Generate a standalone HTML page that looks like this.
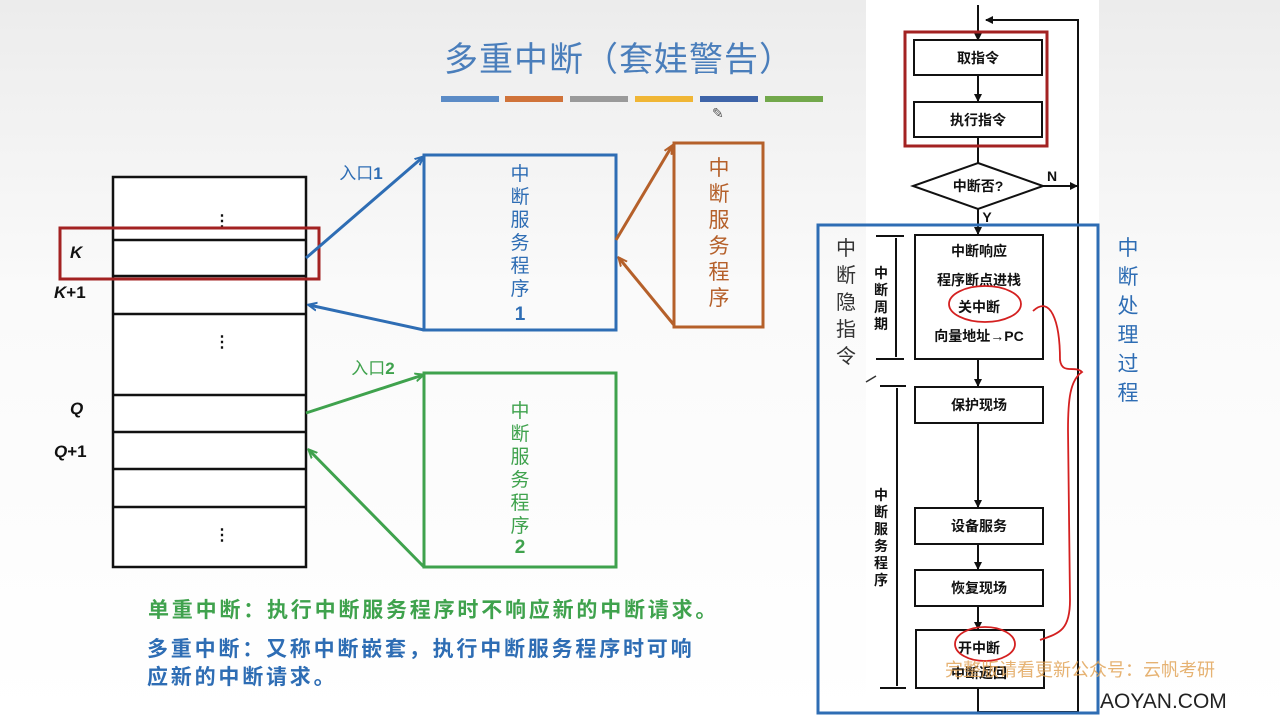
<!DOCTYPE html>
<html><head><meta charset="utf-8"><style>
html,body{margin:0;padding:0;}
body{width:1280px;height:720px;overflow:hidden;background:linear-gradient(#ececec,#fafafa 40%,#fff);font-family:"Liberation Sans","Noto Sans CJK SC",sans-serif;}
svg{position:absolute;left:0;top:0}
text{font-family:"Liberation Sans","Noto Sans CJK SC",sans-serif;}
</style></head><body>
<svg width="1280" height="720" viewBox="0 0 1280 720">
<defs>
<marker id="ab" markerWidth="10" markerHeight="10" refX="8" refY="5" orient="auto" markerUnits="userSpaceOnUse"><path d="M0,1 L9,5 L0,9" fill="none" stroke="#2e6db4" stroke-width="2"/></marker>
<marker id="ag" markerWidth="10" markerHeight="10" refX="8" refY="5" orient="auto" markerUnits="userSpaceOnUse"><path d="M0,1 L9,5 L0,9" fill="none" stroke="#3fa24d" stroke-width="2"/></marker>
<marker id="ao" markerWidth="10" markerHeight="10" refX="8" refY="5" orient="auto" markerUnits="userSpaceOnUse"><path d="M0,1 L9,5 L0,9" fill="none" stroke="#b5602a" stroke-width="2"/></marker>
<marker id="ak" markerWidth="8" markerHeight="8" refX="7" refY="4" orient="auto" markerUnits="userSpaceOnUse"><path d="M0,0 L8,4 L0,8 z" fill="#111"/></marker>
</defs>
<text x="619" y="71" font-size="34" letter-spacing="1" fill="#4a7ebb" text-anchor="middle">多重中断（套娃警告）</text>
<rect x="441" y="96" width="58" height="6" fill="#5b8bc6"/>
<rect x="505" y="96" width="58" height="6" fill="#d0733a"/>
<rect x="570" y="96" width="58" height="6" fill="#9a9a9a"/>
<rect x="635" y="96" width="58" height="6" fill="#f0b635"/>
<rect x="700" y="96" width="58" height="6" fill="#3e64a8"/>
<rect x="765" y="96" width="58" height="6" fill="#72a84b"/>
<text x="712" y="118" font-size="14" fill="#555">✎</text>

<g stroke="#111" stroke-width="2.5" fill="none">
<rect x="113" y="177" width="193" height="390" fill="#fff"/>
<line x1="113" y1="240" x2="306" y2="240"/>
<line x1="113" y1="276" x2="306" y2="276"/>
<line x1="113" y1="314" x2="306" y2="314"/>
<line x1="113" y1="395" x2="306" y2="395"/>
<line x1="113" y1="432" x2="306" y2="432"/>
<line x1="113" y1="469" x2="306" y2="469"/>
<line x1="113" y1="507" x2="306" y2="507"/>
</g>
<g fill="#111" font-size="16" font-weight="bold">
<text x="214" y="226">⋮</text><text x="214" y="347">⋮</text><text x="214" y="540">⋮</text>
<text x="70" y="258" font-style="italic" font-size="17">K</text>
<text x="54" y="298" font-size="17"><tspan font-style="italic">K</tspan>+1</text>
<text x="70" y="414" font-style="italic" font-size="17">Q</text>
<text x="54" y="457" font-size="17"><tspan font-style="italic">Q</tspan>+1</text>
</g>
<rect x="60" y="228" width="259" height="51" fill="none" stroke="#a32222" stroke-width="3"/>

<rect x="424" y="155" width="192" height="175" fill="none" stroke="#2e6db4" stroke-width="3"/>
<g fill="#2e6db4" font-size="19" text-anchor="middle">
<text x="520" y="180">中</text><text x="520" y="203">断</text><text x="520" y="226">服</text><text x="520" y="249">务</text><text x="520" y="272">程</text><text x="520" y="295">序</text><text x="520" y="320" font-weight="bold">1</text>
<text x="361" y="179" font-size="17">入口<tspan font-weight="bold">1</tspan></text>
</g>
<line x1="306" y1="258" x2="423" y2="157" stroke="#2e6db4" stroke-width="3" marker-end="url(#ab)"/>
<line x1="424" y1="330" x2="309" y2="305" stroke="#2e6db4" stroke-width="3" marker-end="url(#ab)"/>

<rect x="674" y="143" width="89" height="184" fill="none" stroke="#b5602a" stroke-width="3"/>
<g fill="#b5602a" font-size="21" text-anchor="middle">
<text x="719" y="175">中</text><text x="719" y="201">断</text><text x="719" y="227">服</text><text x="719" y="253">务</text><text x="719" y="279">程</text><text x="719" y="305">序</text>
</g>
<line x1="616" y1="240" x2="672" y2="146" stroke="#b5602a" stroke-width="3" marker-end="url(#ao)"/>
<line x1="674" y1="325" x2="619" y2="258" stroke="#b5602a" stroke-width="3" marker-end="url(#ao)"/>

<rect x="424" y="373" width="192" height="194" fill="none" stroke="#3fa24d" stroke-width="3"/>
<g fill="#3fa24d" font-size="19" text-anchor="middle">
<text x="520" y="417">中</text><text x="520" y="440">断</text><text x="520" y="463">服</text><text x="520" y="486">务</text><text x="520" y="509">程</text><text x="520" y="532">序</text><text x="520" y="553" font-weight="bold">2</text>
<text x="373" y="374" font-size="17">入口<tspan font-weight="bold">2</tspan></text>
</g>
<line x1="306" y1="413" x2="423" y2="375" stroke="#3fa24d" stroke-width="3" marker-end="url(#ag)"/>
<line x1="424" y1="567" x2="309" y2="450" stroke="#3fa24d" stroke-width="3" marker-end="url(#ag)"/>

<text x="148" y="617" font-size="21" letter-spacing="2.8" font-weight="bold" fill="#3fa24d">单重中断：执行中断服务程序时不响应新的中断请求。</text>
<text x="147" y="656" font-size="21" letter-spacing="2.8" font-weight="bold" fill="#2e6db4">多重中断：又称中断嵌套，执行中断服务程序时可响</text>
<text x="147" y="684" font-size="21" letter-spacing="2.8" font-weight="bold" fill="#2e6db4">应新的中断请求。</text>

<rect x="866" y="0" width="233" height="720" fill="#fff"/>
<g stroke="#111" stroke-width="2" fill="none">
<line x1="978" y1="5" x2="978" y2="40" marker-end="url(#ak)"/>
<polyline points="1078,187 1078,20 986,20" marker-end="url(#ak)"/>
<rect x="914" y="40" width="128" height="35"/>
<line x1="978" y1="75" x2="978" y2="101" marker-end="url(#ak)"/>
<rect x="914" y="102" width="128" height="35"/>
<line x1="978" y1="137" x2="978" y2="163"/>
<polygon points="978,163 1043,186 978,209 913,186"/>
<line x1="1043" y1="186" x2="1077" y2="186" marker-end="url(#ak)"/>
<line x1="978" y1="209" x2="978" y2="234" marker-end="url(#ak)"/>
<rect x="915" y="235" width="128" height="124"/>
<line x1="978" y1="359" x2="978" y2="386" marker-end="url(#ak)"/>
<rect x="915" y="387" width="128" height="36"/>
<line x1="978" y1="423" x2="978" y2="507" marker-end="url(#ak)"/>
<rect x="915" y="508" width="128" height="36"/>
<line x1="978" y1="544" x2="978" y2="569" marker-end="url(#ak)"/>
<rect x="915" y="570" width="128" height="36"/>
<line x1="978" y1="606" x2="978" y2="629" marker-end="url(#ak)"/>
<rect x="916" y="630" width="128" height="58"/>
<line x1="978" y1="688" x2="978" y2="712"/>
<line x1="978" y1="712" x2="1078" y2="712"/>
<line x1="1078" y1="187" x2="1078" y2="712"/>
<line x1="876" y1="236" x2="904" y2="236"/><line x1="876" y1="359" x2="904" y2="359"/>
<line x1="896" y1="238" x2="896" y2="357"/>
<line x1="880" y1="386" x2="906" y2="386"/><line x1="880" y1="688" x2="906" y2="688"/>
<line x1="897" y1="388" x2="897" y2="686"/>
</g>
<g fill="#111" font-size="14" font-weight="bold" text-anchor="middle">
<text x="978" y="63">取指令</text>
<text x="978" y="125">执行指令</text>
<text x="978" y="191">中断否?</text>
<text x="1052" y="181" font-family="Liberation Serif">N</text>
<text x="987" y="222" font-family="Liberation Serif">Y</text>
<text x="979" y="256">中断响应</text>
<text x="979" y="285">程序断点进栈</text>
<text x="979" y="312">关中断</text>
<text x="979" y="341">向量地址→PC</text>
<text x="979" y="410">保护现场</text>
<text x="979" y="531">设备服务</text>
<text x="979" y="593">恢复现场</text>
<text x="979" y="653">开中断</text>
<text x="979" y="678">中断返回</text>
<text x="881" y="278">中</text><text x="881" y="295">断</text><text x="881" y="312">周</text><text x="881" y="329">期</text>
<text x="881" y="500">中</text><text x="881" y="517">断</text><text x="881" y="534">服</text><text x="881" y="551">务</text><text x="881" y="568">程</text><text x="881" y="585">序</text>
</g>
<rect x="905" y="32" width="142" height="114" fill="none" stroke="#a32222" stroke-width="3"/>
<ellipse cx="985" cy="304" rx="36" ry="18" fill="none" stroke="#d42020" stroke-width="1.8"/>
<ellipse cx="985" cy="644" rx="30" ry="17" fill="none" stroke="#d42020" stroke-width="1.8"/>
<path d="M1033,311 C1050,295 1060,320 1060,360 C1062,375 1075,365 1082,372 C1070,380 1068,400 1068,430 L1070,600 C1070,630 1060,633 1040,640" fill="none" stroke="#d42020" stroke-width="1.8"/>
<rect x="818" y="225" width="280" height="488" fill="none" stroke="#2e6db4" stroke-width="3"/>
<g fill="#333" font-size="20" text-anchor="middle">
<text x="846" y="255">中</text><text x="846" y="282">断</text><text x="846" y="309">隐</text><text x="846" y="336">指</text><text x="846" y="363">令</text>
</g>
<line x1="866" y1="382" x2="876" y2="376" stroke="#333" stroke-width="1.5"/>
<g fill="#2e6db4" font-size="21" text-anchor="middle">
<text x="1128" y="255">中</text><text x="1128" y="284">断</text><text x="1128" y="313">处</text><text x="1128" y="342">理</text><text x="1128" y="371">过</text><text x="1128" y="400">程</text>
</g>
<text x="945" y="676" font-size="18" fill="#e0a050" opacity="0.8">完整版请看更新公众号：云帆考研</text>
<text x="1100" y="708" font-size="21" fill="#222">AOYAN.COM</text>
</svg>
</body></html>
